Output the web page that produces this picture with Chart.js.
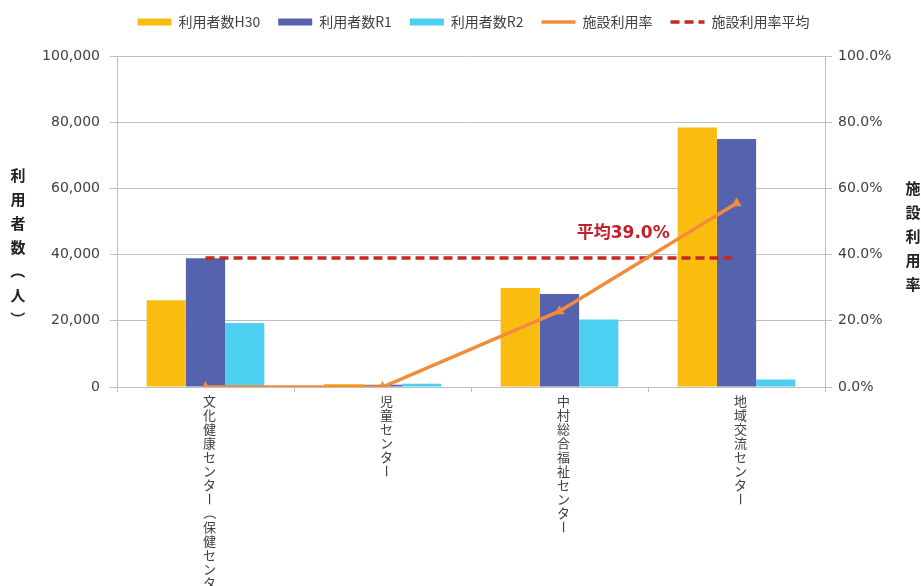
<!DOCTYPE html>
<html>
<head>
<meta charset="utf-8">
<script src="https://cdn.jsdelivr.net/npm/chart.js@4.4.1/dist/chart.umd.min.js"></script>
<style>
  html, body { margin: 0; padding: 0; background: #fff; }
  #wrap { width: 921px; height: 586px; }
</style>
</head>
<body>
<div id="wrap"><canvas id="usageChart" width="921" height="586"></canvas></div>
<script>
// data
const categories = ['文化健康センター（保健センター）', '児童センター', '中村総合福祉センター', '地域交流センター'];
const usersH30 = [26200, 900, 29900, 78400];
const usersR1 = [38900, 700, 28100, 74900];
const usersR2 = [19300, 1000, 20400, 2300];
const usageRate = [0, 0, 22.9, 55.5];
const usageRateAvg = [39.0, 39.0, 39.0, 39.0];
const avgText = '平均39.0%';
const leftTitle = '利用者数（人）';
const rightTitle = '施設利用率';

const gridColor = '#BFBFBF';
const textColor = '#404040';
const jpFont = '"Noto Sans CJK JP", sans-serif';
const numFont = '"DejaVu Sans", "Noto Sans CJK JP", sans-serif';

// draws a string top-to-bottom, turning （ ） ー like vertical typesetting
function drawVertical(ctx, text, cx, cy, pitch) {
  const turn = '（）ー';
  [...text].forEach((ch, i) => {
    const y = cy + i * pitch;
    ctx.save();
    ctx.translate(cx, y);
    if (turn.includes(ch)) ctx.rotate(Math.PI / 2);
    ctx.fillText(ch, 0, 0);
    ctx.restore();
  });
}

// room between legend and plot, and legend nudged a bit right like the original
const legendGap = {
  id: 'legendGap',
  beforeLayout(chart) {
    const lg = chart.legend;
    if (lg && !lg._gapPatched) {
      const fit = lg.fit;
      const draw = lg.draw;
      lg.fit = function() { fit.call(this); this.height += 17; };
      lg.draw = function(area) {
        this.ctx.save();
        this.ctx.translate(13, 0);
        draw.call(this, area);
        this.ctx.restore();
      };
      lg._gapPatched = true;
    }
  }
};

const textPlugin = {
  id: 'textPlugin',
  afterDraw(chart) {
    const ctx = chart.ctx;
    const { x, y1 } = chart.scales;
    ctx.save();
    ctx.textAlign = 'center';
    ctx.textBaseline = 'middle';

    // category labels, written vertically under the axis
    ctx.fillStyle = textColor;
    ctx.font = '13px ' + jpFont;
    categories.forEach((c, i) => {
      drawVertical(ctx, c, x.getPixelForValue(i) + 4, x.top + 14, 14);
    });

    // axis titles
    ctx.font = 'bold 15px ' + jpFont;
    ctx.fillStyle = '#222';
    drawVertical(ctx, leftTitle, 18, 175, 24);
    drawVertical(ctx, rightTitle, 913, 188, 24);

    // average note
    ctx.font = 'bold 17px ' + numFont;
    ctx.fillStyle = '#C0212A';
    ctx.fillText(avgText, x.getPixelForValue(2.36), y1.getPixelForValue(46.5));
    ctx.restore();
  }
};

const ctx = document.getElementById('usageChart').getContext('2d');

new Chart(ctx, {
  type: 'bar',
  data: {
    labels: categories,
    datasets: [
      { label: '利用者数H30', data: usersH30, backgroundColor: '#FBBC10', yAxisID: 'y', order: 0 },
      { label: '利用者数R1', data: usersR1, backgroundColor: '#5563AE', yAxisID: 'y', order: 0 },
      { label: '利用者数R2', data: usersR2, backgroundColor: '#4DCFF1', yAxisID: 'y', order: 0 },
      {
        type: 'line', label: '施設利用率', data: usageRate, yAxisID: 'y1', order: -2,
        borderColor: '#F28C3A', backgroundColor: '#F28C3A', borderWidth: 3.5,
        pointStyle: 'triangle', pointRadius: 2.5, tension: 0
      },
      {
        type: 'line', label: '施設利用率平均', data: usageRateAvg, yAxisID: 'y1', order: -1,
        borderColor: '#C4291F', backgroundColor: '#C4291F', borderWidth: 3.5,
        borderDash: [9, 5], pointRadius: 0, tension: 0
      }
    ]
  },
  options: {
    responsive: false,
    animation: false,
    layout: { padding: { top: -3, left: 0, right: 0, bottom: 0 } },
    datasets: {
      bar: { barPercentage: 1.0, categoryPercentage: 0.665 }
    },
    plugins: {
      legend: {
        position: 'top',
        labels: {
          usePointStyle: true,
          pointStyleWidth: 34,
          boxHeight: 7,
          padding: 18,
          color: textColor,
          font: { family: jpFont, size: 14 },
          sort: (a, b) => a.datasetIndex - b.datasetIndex,
          generateLabels(chart) {
            const items = Chart.defaults.plugins.legend.labels.generateLabels(chart);
            items.forEach(it => {
              const ds = chart.data.datasets[it.datasetIndex];
              if (ds.type === 'line') {
                it.pointStyle = 'line';
                it.strokeStyle = ds.borderColor;
                it.lineWidth = ds.borderWidth;
                it.lineDash = ds.borderDash || [];
              } else {
                it.pointStyle = 'rect';
              }
            });
            return items;
          }
        }
      },
      tooltip: { enabled: false }
    },
    scales: {
      x: {
        grid: { display: true, drawOnChartArea: false, offset: true, tickLength: 5, color: gridColor },
        border: { color: gridColor },
        ticks: { display: false },
        afterFit(scale) { scale.height = 199; }
      },
      y: {
        position: 'left',
        min: 0,
        max: 100000,
        ticks: {
          stepSize: 20000,
          padding: 10,
          color: textColor,
          font: { family: numFont, size: 14 },
          callback: v => v.toLocaleString('en-US')
        },
        grid: { color: gridColor, tickLength: 7 },
        border: { color: gridColor },
        afterFit(scale) { scale.width = 117; }
      },
      y1: {
        position: 'right',
        min: 0,
        max: 100,
        ticks: {
          stepSize: 20,
          padding: 6,
          color: textColor,
          font: { family: numFont, size: 14 },
          callback: v => v.toFixed(1) + '%'
        },
        grid: { drawOnChartArea: false, color: gridColor, tickLength: 7 },
        border: { color: gridColor },
        afterFit(scale) { scale.width = 96; }
      }
    }
  },
  plugins: [legendGap, textPlugin]
});
</script>
</body>
</html>
